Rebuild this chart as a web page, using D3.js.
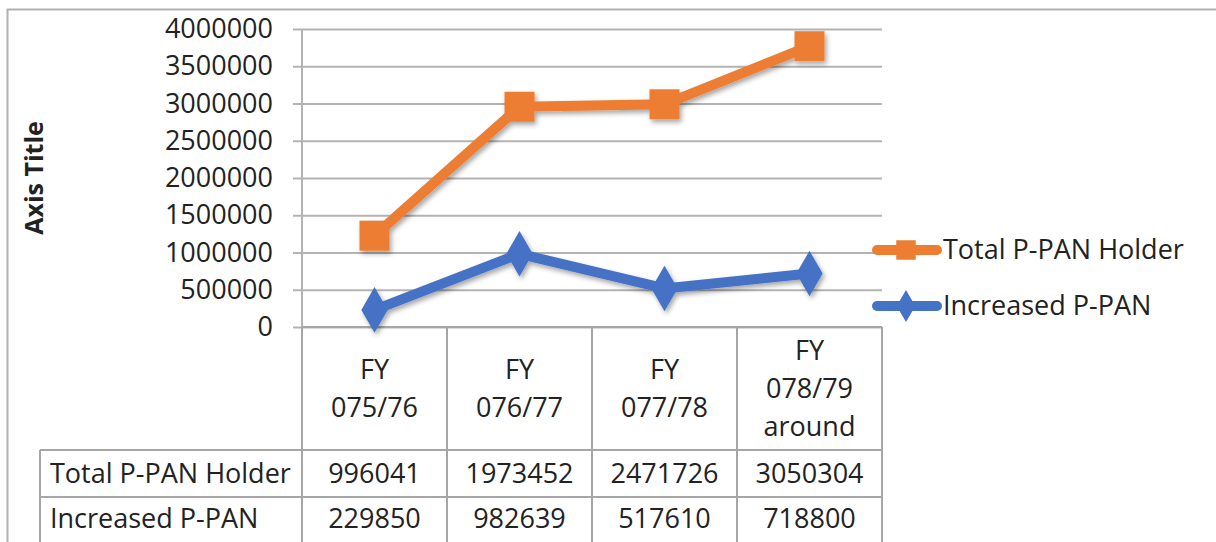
<!DOCTYPE html>
<html>
<head>
<meta charset="utf-8">
<script src="https://cdn.jsdelivr.net/npm/d3@7"></script>
<style>
  body { margin: 0; background: #fff; }
  svg { display: block; font-family: "Open Sans", sans-serif; }
</style>
</head>
<body>
<div id="chart"></div>
<script>
// categories (multi-line header labels)
var categories = [["FY", "075/76"], ["FY", "076/77"], ["FY", "077/78"], ["FY", "078/79", "around"]];
var totalHolder = [996041, 1973452, 2471726, 3050304];
var increasedPan = [229850, 982639, 517610, 718800];
var seriesNames = ["Total P-PAN Holder", "Increased P-PAN"];
var yTickValues = [0, 500000, 1000000, 1500000, 2000000, 2500000, 3000000, 3500000, 4000000];

var width = 1216, height = 542;
var plot = {left: 302, right: 882, top: 29, bottom: 327};
var orange = "#ED7D31", blue = "#4472C4", grid = "#b3b3b3", tableLine = "#a6a6a6";
var fs = 27;

var svg = d3.select("#chart").append("svg")
    .attr("width", width)
    .attr("height", height);

// shadow like excel
var defs = svg.append("defs");
defs.append("filter").attr("id", "shadow")
    .attr("x", "-30%").attr("y", "-30%").attr("width", "160%").attr("height", "160%")
    .append("feDropShadow")
    .attr("dx", 2).attr("dy", 3).attr("stdDeviation", 2.5)
    .attr("flood-color", "#000").attr("flood-opacity", 0.35);

// outer frame
svg.append("path")
    .attr("d", "M7.5," + height + "V9.5H" + width)
    .attr("fill", "none").attr("stroke", "#b0b0b0").attr("stroke-width", 2);

var idx = d3.range(categories.length);
var x = d3.scaleBand().domain(idx).range([plot.left, plot.right]);
var y = d3.scaleLinear().domain([0, 4000000]).range([plot.bottom, plot.top]);

// stacked values (Increased at bottom, Total stacked on it)
var rows = idx.map(function(i) { return {i: i, inc: increasedPan[i], tot: totalHolder[i]}; });
var stacked = d3.stack().keys(["inc", "tot"])(rows);

// y axis with gridlines
var yAxis = d3.axisLeft(y)
    .tickValues(yTickValues)
    .tickFormat(d3.format("d"))
    .tickSizeInner(-(plot.right - plot.left + 9))
    .tickSizeOuter(0)
    .tickPadding(20);

var gy = svg.append("g")
    .attr("transform", "translate(" + (plot.left - 9) + ",0)")
    .call(yAxis);
gy.select(".domain").remove();
gy.selectAll(".tick line").attr("stroke", grid).attr("stroke-width", 2);
gy.selectAll(".tick text").attr("fill", "#222").attr("font-size", fs).attr("font-family", "Open Sans, sans-serif");

// vertical axis line
svg.append("line")
    .attr("x1", plot.left).attr("x2", plot.left)
    .attr("y1", plot.top).attr("y2", plot.bottom)
    .attr("stroke", grid).attr("stroke-width", 2);

// axis title
svg.append("text")
    .attr("transform", "translate(43,178) rotate(-90)")
    .attr("text-anchor", "middle")
    .attr("font-size", 25).attr("font-weight", "bold").attr("fill", "#222")
    .text("Axis Title");

// data table
var headerBottom = 450, row1Bottom = 497, row2Bottom = 545, tableLeft = 40;
var tbl = svg.append("g").attr("stroke", tableLine).attr("stroke-width", 2);
x.domain().forEach(function(i) {
    tbl.append("line").attr("x1", x(i)).attr("x2", x(i)).attr("y1", plot.bottom).attr("y2", row2Bottom);
});
tbl.append("line").attr("x1", plot.right).attr("x2", plot.right).attr("y1", plot.bottom).attr("y2", row2Bottom);
tbl.append("line").attr("x1", plot.left).attr("x2", plot.right).attr("y1", plot.bottom).attr("y2", plot.bottom);
tbl.append("line").attr("x1", tableLeft).attr("x2", tableLeft).attr("y1", headerBottom).attr("y2", row2Bottom);
[headerBottom, row1Bottom].forEach(function(yy) {
    tbl.append("line").attr("x1", tableLeft).attr("x2", plot.right).attr("y1", yy).attr("y2", yy);
});

var lineH = 38;
svg.selectAll(".catLabel")
    .data(categories)
    .enter()
    .append("text")
    .attr("class", "catLabel")
    .attr("text-anchor", "middle")
    .attr("font-size", fs).attr("fill", "#222")
    .each(function(d, i) {
        var t = d3.select(this);
        var cy = (plot.bottom + headerBottom) / 2;
        var start = cy - (d.length - 1) * lineH / 2;
        d.forEach(function(s, k) {
            t.append("tspan")
                .attr("x", x(i) + x.bandwidth() / 2)
                .attr("y", start + k * lineH)
                .attr("dy", "0.35em")
                .text(s);
        });
    });

var tableRows = [totalHolder, increasedPan];
tableRows.forEach(function(vals, r) {
    var cy = r === 0 ? (headerBottom + row1Bottom) / 2 : (row1Bottom + row2Bottom) / 2 - 2;
    svg.append("text")
        .attr("x", tableLeft + 10).attr("y", cy).attr("dy", "0.35em")
        .attr("font-size", fs).attr("fill", "#222")
        .text(seriesNames[r]);
    svg.selectAll(".cell" + r)
        .data(vals)
        .enter()
        .append("text")
        .attr("class", "cell" + r)
        .attr("x", function(d, i) { return x(i) + x.bandwidth() / 2; })
        .attr("y", cy).attr("dy", "0.35em")
        .attr("text-anchor", "middle")
        .attr("font-size", fs).attr("fill", "#222")
        .text(function(d) { return d; });
});

// lines
var cx = function(d) { return x(d.data.i) + x.bandwidth() / 2; };
var line = d3.line().x(cx).y(function(d) { return y(d[1]); });

var series = [
    {layer: stacked[1], color: orange, shape: d3.symbolSquare},
    {layer: stacked[0], color: blue, shape: d3.symbolDiamond}
];

series.forEach(function(s) {
    var g = svg.append("g").attr("filter", "url(#shadow)");
    g.append("path")
        .datum(s.layer)
        .attr("d", line)
        .attr("fill", "none")
        .attr("stroke", s.color)
        .attr("stroke-width", 10)
        .attr("stroke-linejoin", "round")
        .attr("stroke-linecap", "round");
    g.selectAll(".mark")
        .data(s.layer)
        .enter()
        .append("path")
        .attr("transform", function(d) { return "translate(" + cx(d) + "," + y(d[1]) + ")"; })
        .attr("d", d3.symbol().type(s.shape).size(s.shape === d3.symbolSquare ? 900 : 600))
        .attr("fill", s.color);
});

// legend
var legend = svg.append("g");
seriesNames.forEach(function(name, i) {
    var s = series[i];
    var ly = 250 + i * 56;
    var lg = legend.append("g").attr("transform", "translate(0," + ly + ")");
    lg.append("line")
        .attr("x1", 877).attr("x2", 937)
        .attr("stroke", s.color).attr("stroke-width", 10).attr("stroke-linecap", "round");
    lg.append("path")
        .attr("transform", "translate(906,0)")
        .attr("d", d3.symbol().type(s.shape).size(s.shape === d3.symbolSquare ? 380 : 300))
        .attr("fill", s.color);
    lg.append("text")
        .attr("x", 943).attr("dy", "0.35em")
        .attr("font-size", fs).attr("fill", "#222")
        .text(name);
});
</script>
</body>
</html>
